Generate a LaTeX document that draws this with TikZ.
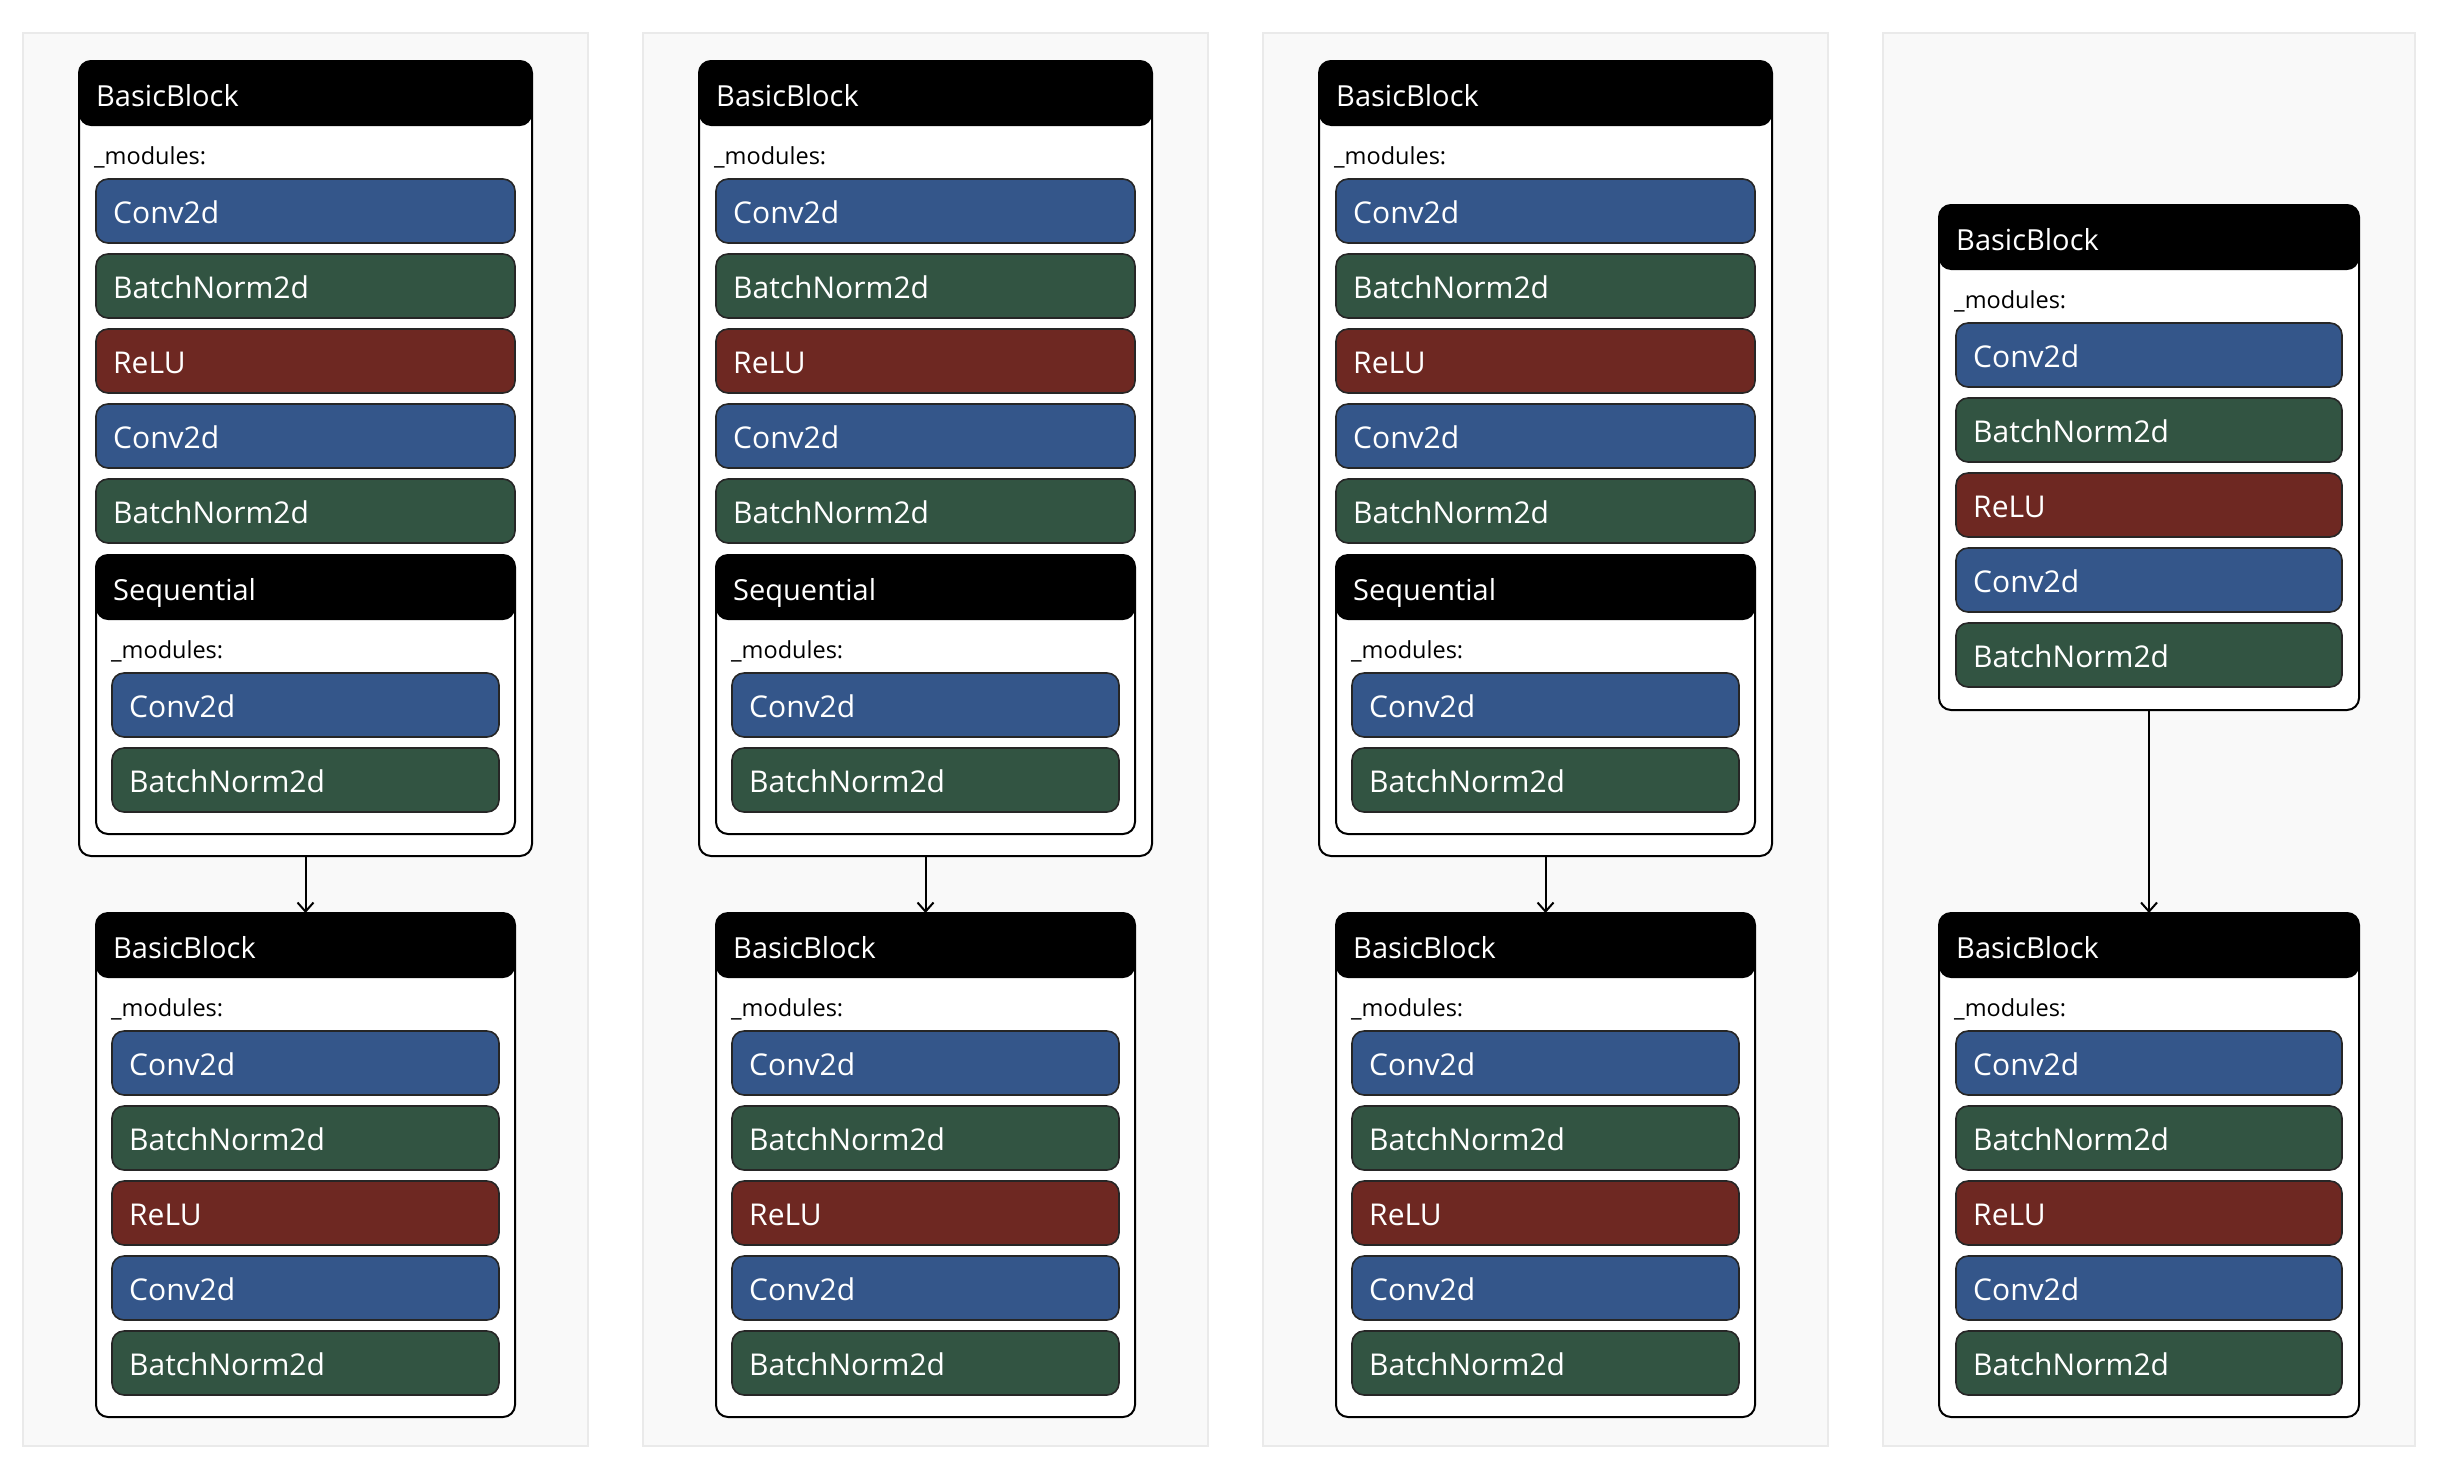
\documentclass[tikz,border=0pt]{standalone}
\usepackage{fontspec}
\setmainfont{Open Sans}
\usetikzlibrary{arrows.meta}
\definecolor{convblue}{RGB}{52,86,138}
\definecolor{bngreen}{RGB}{50,84,66}
\definecolor{relured}{RGB}{110,40,34}
\definecolor{panelfill}{RGB}{249,249,249}
\definecolor{panelline}{RGB}{234,234,234}
\definecolor{kidline}{RGB}{38,38,38}
\tikzset{
 panelbg/.style={draw=panelline, fill=panelfill, line width=2pt, inner sep=0, outer sep=0},
 blockframe/.style={draw=black, fill=white, line width=2pt, rounded corners=12pt, inner sep=0, outer sep=0,
   path picture={\fill[black] (path picture bounding box.north west) rectangle ([yshift=-65pt]path picture bounding box.north east);}},
 kidbox/.style={draw=kidline, line width=1.6pt, rounded corners=12pt, minimum height=64pt, inner sep=0, outer sep=0},
 conv/.style={fill=convblue}, bn/.style={fill=bngreen}, relu/.style={fill=relured},
 kidtext/.style={text=white, font=\fontsize{30}{36}\selectfont, inner sep=0},
 titletext/.style={text=white, font=\fontsize{29}{35}\selectfont, inner sep=0},
 modtext/.style={text=black, font=\fontsize{23.5}{28}\selectfont, inner sep=0},
 conn/.style={draw=black, line width=2pt, -{Straight Barb[length=9pt,width=16pt]}},
}
% block: name, x, y, width, height, title
\newcommand\blk[6]{%
 \node[blockframe, minimum width=#4pt, minimum height=#5pt, anchor=north west] (#1) at (#2,#3) {};
 \node[titletext, anchor=base west] (#1-title) at ([xshift=17pt, yshift=-45pt]#1.north west) {#6};
 \node[modtext, anchor=base west] (#1-mod) at ([xshift=15pt, yshift=-103.5pt]#1.north west) {\_modules:};
}
% child: name, x, y, width, style, text
\newcommand\kid[6]{%
 \node[kidbox, #5, minimum width=#4pt, anchor=north west] (#1) at (#2,#3) {};
 \node[kidtext, anchor=base west] (#1-t) at ([xshift=17pt, yshift=-12pt]#1.west) {#6};
}
% five children column: prefix, x, first top, width
\newcommand\five[4]{%
 \kid{#1k1}{#2}{#3}{#4}{conv}{Conv2d}
 \kid{#1k2}{#2}{#3+75}{#4}{bn}{BatchNorm2d}
 \kid{#1k3}{#2}{#3+150}{#4}{relu}{ReLU}
 \kid{#1k4}{#2}{#3+225}{#4}{conv}{Conv2d}
 \kid{#1k5}{#2}{#3+300}{#4}{bn}{BatchNorm2d}
}
\begin{document}
\begin{tikzpicture}[x=1pt, y=-1pt]
\useasboundingbox (0,0) rectangle (2440,1468);
\fill[white] (0,0) rectangle (2440,1468);
\foreach \i/\dx in {1/0,2/620,3/1240}{
 \node[panelbg, minimum width=565pt, minimum height=1413pt, anchor=north west] (p\i) at (23+\dx,33) {};
 \blk{a\i}{79+\dx}{61}{453}{795}{BasicBlock}
 \five{a\i}{96+\dx}{179}{419}
 \blk{s\i}{96+\dx}{555}{419}{279}{Sequential}
 \kid{s\i k1}{112+\dx}{673}{387}{conv}{Conv2d}
 \kid{s\i k2}{112+\dx}{748}{387}{bn}{BatchNorm2d}
 \blk{c\i}{96+\dx}{913}{419}{504}{BasicBlock}
 \five{c\i}{112+\dx}{1031}{387}
 \draw[conn] (a\i.south) -- (c\i.north);
}
\node[panelbg, minimum width=532pt, minimum height=1413pt, anchor=north west] (p4) at (1883,33) {};
\blk{d1}{1939}{205}{420}{505}{BasicBlock}
\five{d1}{1956}{323}{386}
\blk{d2}{1939}{913}{420}{504}{BasicBlock}
\five{d2}{1956}{1031}{386}
\draw[conn] (d1.south) -- (d2.north);
\end{tikzpicture}
\end{document}
